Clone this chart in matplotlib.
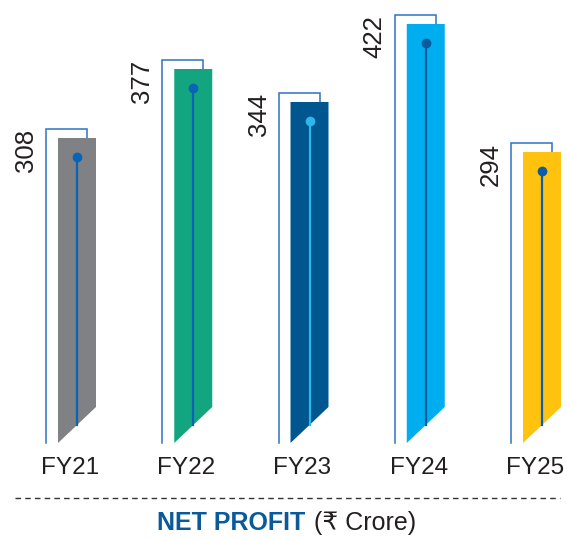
import matplotlib.pyplot as plt

# datos
years = ["FY21", "FY22", "FY23", "FY24", "FY25"]
profit = [308, 377, 344, 422, 294]
bar_colors = ["#808184", "#13a57f", "#00568f", "#00aeef", "#ffc20e"]
dot_colors = ["#0b63b5", "#0b63b5", "#2bb7ea", "#0a5a9c", "#0b5cab"]

plt.rcParams['font.family'] = ['Liberation Sans', 'DejaVu Sans']

fig = plt.figure(figsize=(5.67, 5.40), dpi=100)
ax = fig.add_axes([0, 0, 1, 1])
ax.set_xlim(-0.6624, 4.215)
ax.set_ylim(-94, 446)
ax.axis('off')

hw = 0.1634      # media anchura de la barra
bl, br = -0.2667, 0.086   # corchete izquierda / derecha
outline = "#2f73c0"

for i, (yr, v) in enumerate(zip(years, profit)):
    # corchete
    ax.plot([i + bl, i + bl, i + br, i + br], [3, v + 9, v + 9, v],
            color=outline, lw=1.1, solid_joinstyle='miter', zorder=1)
    # barra con base inclinada
    ax.fill([i - hw, i + hw, i + hw, i - hw], [3, 39, v, v],
            color=bar_colors[i], lw=0, zorder=2)
    # línea central y punto
    ax.plot([i, i], [21, v - 19], color=dot_colors[i], lw=1.6, zorder=3)
    ax.plot(i, v - 19, 'o', color=dot_colors[i], ms=6, zorder=4)
    # valor
    ax.text(i - 0.4387, v + 9, str(v), rotation=90, ha='center', va='top',
            fontsize=18.5, color="#231f20")
    # etiqueta
    ax.text(i - 0.06, -22, yr, ha='center', va='center', fontsize=17.5,
            color="#231f20")

# línea discontinua
ax.plot([(15 - 77) / 116.25, (560 - 77) / 116.25], [-52, -52],
        color="#333333", lw=1, dashes=(4, 3))

fig.text(305 / 567, 1 - 523 / 540, "NET PROFIT", ha='right', va='center',
         fontsize=18, fontweight='bold', color="#0a5a9a")
fig.text(314 / 567, 1 - 523 / 540, "(₹ Crore)", ha='left', va='center',
         fontsize=18, color="#231f20")

fig.savefig("out.png", dpi=100)
